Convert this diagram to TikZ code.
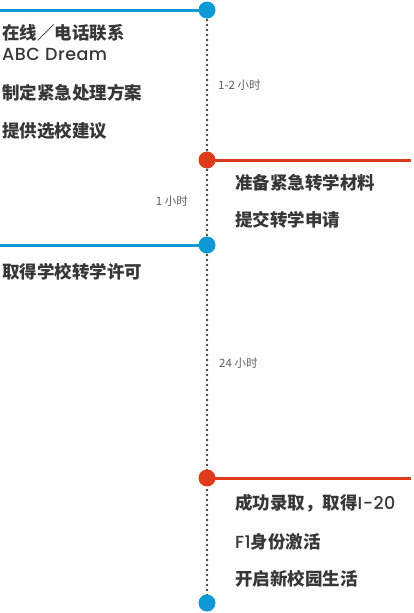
\documentclass[tikz,border=0pt]{standalone}
\usepackage{fontspec}
\setmainfont{Noto Sans CJK SC}
\newfontfamily\latinfont{Poppins}[BoldFont={Poppins Medium},LetterSpace=3]
\definecolor{lineblue}{RGB}{14,152,212}
\definecolor{linered}{RGB}{222,58,28}
\definecolor{textgray}{RGB}{55,55,55}
\definecolor{timegray}{RGB}{95,95,95}
\tikzset{
  stopdot/.style={circle,fill=#1,minimum size=17pt,inner sep=0pt},
  armline/.style={draw=#1,line width=3pt},
  steptext/.style={anchor=west,inner sep=0pt,text=textgray,
    font=\fontsize{17.5}{19}\selectfont\bfseries},
  timetext/.style={inner sep=0pt,text=timegray,
    font=\fontsize{11.5}{13}\selectfont}
}

\begin{document}
\begin{tikzpicture}[x=1pt,y=-1pt]
\useasboundingbox (0,0) rectangle (414,613);

% stops on the time line
\coordinate (P1) at (207,10);
\coordinate (P2) at (207,160);
\coordinate (P3) at (207,245);
\coordinate (P4) at (207,478);
\coordinate (P5) at (207,603);

% free ends of the arms
\coordinate (E1) at (0,10);
\coordinate (E2) at (411,160);
\coordinate (E3) at (0,245);
\coordinate (E4) at (411,478);

\draw[black!75,line width=2.6pt,line cap=round,dash pattern=on 0pt off 5pt] (P1) -- (P5);

\draw[armline=lineblue] (E1) -- (P1);
\draw[armline=linered] (P2) -- (E2);
\draw[armline=lineblue] (E3) -- (P3);
\draw[armline=linered] (P4) -- (E4);

\node[stopdot=lineblue] (S1) at (P1) {};
\node[stopdot=linered] (S2) at (P2) {};
\node[stopdot=lineblue] (S3) at (P3) {};
\node[stopdot=linered] (S4) at (P4) {};
\node[stopdot=lineblue] (S5) at (P5) {};

% steps
\node[steptext] (T1) at (2,33) {在线／电话联系};
\node[steptext] (T2) at (2,54) {\latinfont ABC Dream};
\node[steptext] (T3) at (2,93) {制定紧急处理方案};
\node[steptext] (T4) at (2,131) {提供选校建议};
\node[steptext] (T5) at (235,183) {准备紧急转学材料};
\node[steptext] (T6) at (235,220) {提交转学申请};
\node[steptext] (T7) at (2,272) {取得学校转学许可};
\node[steptext] (T8) at (235,503) {成功录取，取得{\latinfont I-20}};
\node[steptext] (T9) at (235,542) {{\latinfont F1}身份激活};
\node[steptext] (T10) at (235,579) {开启新校园生活};

% durations
\node[timetext,anchor=west] (D1) at (218,85) {1-2 小时};
\node[timetext,anchor=east] (D2) at (188,201) {1 小时};
\node[timetext,anchor=west] (D3) at (219,363) {24 小时};
\end{tikzpicture}
\end{document}
